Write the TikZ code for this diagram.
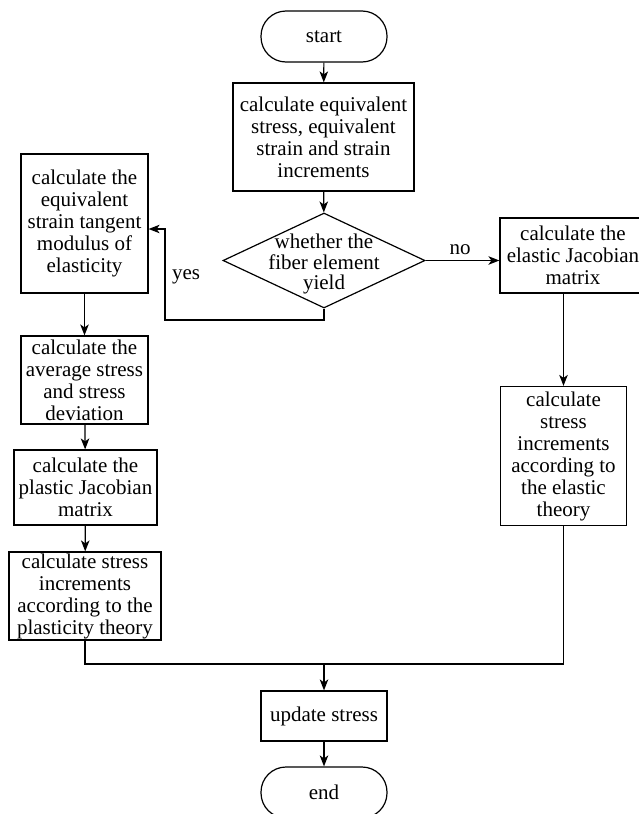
\documentclass[tikz,border=0pt]{standalone}
\usepackage{fontspec}
\setmainfont{Liberation Serif}
\usetikzlibrary{arrows.meta,shapes.geometric}
\begin{document}
\begin{tikzpicture}[x=1pt,y=-1pt,
  every node/.style={font=\fontsize{21pt}{22pt}\selectfont, inner sep=0pt, align=center},
  procbox/.style={draw, line width=1.2pt, minimum width=#1},
  termbox/.style={draw, line width=1.2pt, rounded corners=25pt, minimum width=126pt, minimum height=51pt},
  arr/.style={line width=1.2pt, -{Stealth[length=11pt,width=8.5pt,inset=3pt]}},
  ln/.style={line width=1.2pt}
]
\useasboundingbox (0,0) rectangle (638,814);

\node[termbox] (start) at (324,36.5) {start};
\node[procbox=181pt, minimum height=108pt] (b1) at (323.5,137)
  {calculate equivalent\\stress, equivalent\\strain and strain\\increments};
\node[draw, line width=1.2pt, diamond, minimum width=202pt, minimum height=95pt] (dia) at (324,260.5) {};
\node[font=\fontsize{21pt}{20.5pt}\selectfont] (dtext) at (324,264) {whether the\\fiber element\\yield};

\node[procbox=127pt, minimum height=139pt] (l1) at (84.5,223.5)
  {calculate the\\equivalent\\strain tangent\\modulus of\\elasticity};
\node[procbox=146pt, minimum height=75pt] (r1) at (573,255.5)
  {calculate the\\elastic Jacobian\\matrix};
\node[procbox=127pt, minimum height=88pt] (l2) at (84.5,380)
  {calculate the\\average stress\\and stress\\deviation};
\node[procbox=143pt, minimum height=75pt] (l3) at (85.5,487.5)
  {calculate the\\plastic Jacobian\\matrix};
\node[procbox=152pt, minimum height=88pt] (l4) at (85,596)
  {calculate stress\\increments\\according to the\\plasticity theory};
\node[procbox=126pt, minimum height=139pt] (r2) at (563.5,456)
  {calculate\\stress\\increments\\according to\\the elastic\\theory};
\node[procbox=126pt, minimum height=50pt] (upd) at (324,716) {update stress};
\node[termbox] (end) at (324,792.5) {end};

\node (yes) at (186,277) {yes};
\node (no) at (460,250) {no};

\coordinate (yc) at (165,320);
\coordinate (m) at (324,664);

\draw[arr] (start) -- (b1);
\draw[arr] (b1) -- (dia);
\draw[arr] (dia.east) -- (dia.east -| r1.west);
\draw[arr] (dia.south) |- (yc) |- ([yshift=-5.5pt]l1.east);
\draw[arr] (l1) -- (l2);
\draw[arr] (l2) -- (l3);
\draw[arr] (l3) -- (l4);
\draw[arr] (r1.south -| r2.north) -- (r2.north);
\draw[ln] (l4.south) |- (m) -| (r2.south);
\draw[arr] (m) -- (upd.north);
\draw[arr] (upd) -- (end);
\end{tikzpicture}
\end{document}
